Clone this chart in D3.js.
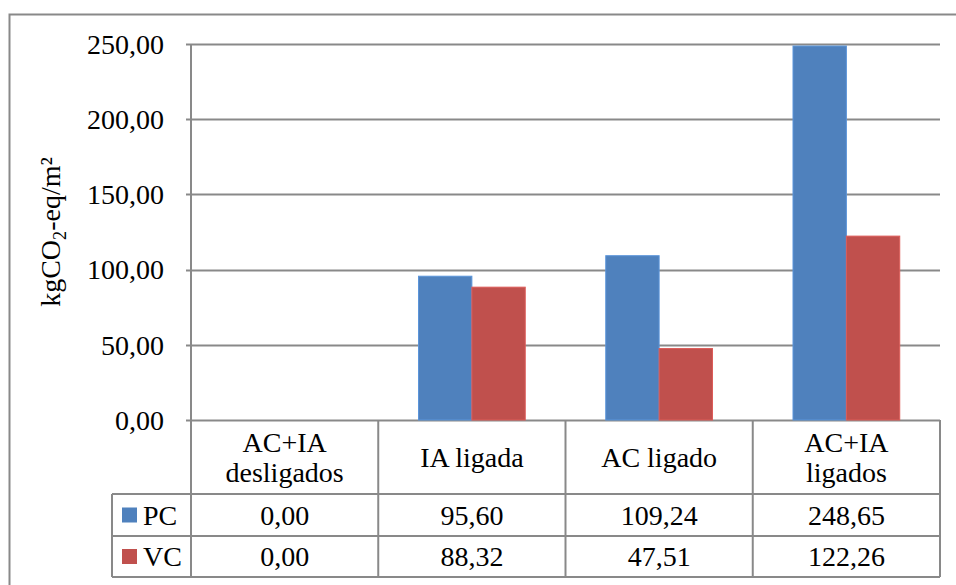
<!DOCTYPE html>
<html>
<head>
<meta charset="utf-8">
<script src="https://cdn.jsdelivr.net/npm/d3@7"></script>
</head>
<body style="margin:0; background:#fff">
<script>
// data
const categories = [["AC+IA", "desligados"], ["IA ligada"], ["AC ligado"], ["AC+IA", "ligados"]];
const seriesNames = ["PC", "VC"];
const pcValues = [0.00, 95.60, 109.24, 248.65];
const vcValues = [0.00, 88.32, 47.51, 122.26];
const yTicks = [0, 50, 100, 150, 200, 250];
const colors = ["#4F81BD", "#C0504D"];

const W = 956, H = 585;
const plotLeft = 191, plotRight = 940, plotTop = 44, zeroY = 420;
const rowHead = 494, rowPC = 536, rowVC = 577, legLeft = 112;
const fs = 28;
const grid = "#898989";

const pt = d3.formatLocale({decimal: ",", thousands: ".", grouping: [3], currency: ["", ""]});
const fmt = pt.format(".2f");

const svg = d3.select("body").append("svg")
    .attr("width", W)
    .attr("height", H);

// outer chart frame (runs off the picture on the right and bottom)
svg.append("rect")
    .attr("x", 9.5).attr("y", 14.5)
    .attr("width", 960).attr("height", 600)
    .attr("fill", "none").attr("stroke", grid).attr("stroke-width", 2);

const x = d3.scaleBand().domain(d3.range(categories.length)).range([plotLeft, plotRight]);
const y = d3.scaleLinear().domain([0, 250]).range([zeroY, plotTop]);
const gap = x.bandwidth() * 0.43 / 2;
const x1 = d3.scaleBand().domain(seriesNames).range([gap, x.bandwidth() - gap]);

// gridlines
svg.append("g")
    .selectAll("line")
    .data(yTicks)
    .join("line")
    .attr("x1", plotLeft - 5).attr("x2", plotRight)
    .attr("y1", d => Math.round(y(d)) + 0.5).attr("y2", d => Math.round(y(d)) + 0.5)
    .attr("stroke", grid).attr("stroke-width", 2);

// y axis line
svg.append("line")
    .attr("x1", plotLeft).attr("x2", plotLeft)
    .attr("y1", plotTop).attr("y2", rowHead)
    .attr("stroke", grid).attr("stroke-width", 2);

// tick labels
svg.append("g")
    .selectAll("text")
    .data(yTicks)
    .join("text")
    .attr("x", 164)
    .attr("y", d => y(d))
    .attr("dy", "0.35em")
    .attr("text-anchor", "end")
    .attr("font-size", fs)
    .text(d => fmt(d));

// y axis title
const yt = svg.append("text")
    .attr("transform", `translate(60,${(plotTop + zeroY) / 2}) rotate(-90)`)
    .attr("text-anchor", "middle")
    .attr("font-size", fs);
yt.append("tspan").text("kgCO");
yt.append("tspan").attr("font-size", fs * 0.65).attr("dy", 6).text("2");
yt.append("tspan").attr("dy", -6).text("-eq/m²");

// bars
const series = [pcValues, vcValues];
const gBars = svg.append("g");
series.forEach((vals, si) => {
    gBars.selectAll(null)
        .data(vals)
        .join("rect")
        .attr("x", (d, i) => x(i) + x1(seriesNames[si]))
        .attr("y", d => y(d))
        .attr("width", x1.bandwidth())
        .attr("height", d => zeroY - y(d))
        .attr("fill", colors[si])
        .attr("stroke", d3.color(colors[si]).brighter(0.4))
        .attr("stroke-width", d => d > 0 ? 1 : 0);
});

// data table
const tbl = svg.append("g").attr("stroke", grid).attr("stroke-width", 2);
// vertical column lines
tbl.selectAll(null)
    .data(d3.range(categories.length + 1))
    .join("line")
    .attr("x1", i => i < categories.length ? x(i) : plotRight)
    .attr("x2", i => i < categories.length ? x(i) : plotRight)
    .attr("y1", zeroY).attr("y2", rowVC);
// legend column left edge
tbl.append("line").attr("x1", legLeft).attr("x2", legLeft).attr("y1", rowHead).attr("y2", rowVC);
// horizontal row lines
[rowHead, rowPC, rowVC].forEach(yy => {
    tbl.append("line").attr("x1", legLeft).attr("x2", plotRight).attr("y1", yy).attr("y2", yy);
});

// category header labels
const lineH = 30;
svg.append("g")
    .selectAll("text")
    .data(categories)
    .join("text")
    .attr("text-anchor", "middle")
    .attr("font-size", fs)
    .each(function(lines, i) {
        const cy = (zeroY + rowHead) / 2 - (lines.length - 1) * lineH / 2;
        d3.select(this).selectAll("tspan")
            .data(lines)
            .join("tspan")
            .attr("x", x(i) + x.bandwidth() / 2)
            .attr("y", (l, j) => cy + j * lineH)
            .attr("dy", "0.35em")
            .text(l => l);
    });

// value rows with legend keys
const rowTops = [rowHead, rowPC];
const rowBots = [rowPC, rowVC];
series.forEach((vals, si) => {
    const cy = (rowTops[si] + rowBots[si]) / 2;
    svg.append("rect")
        .attr("x", 122).attr("y", cy - 7.5)
        .attr("width", 15).attr("height", 15)
        .attr("fill", colors[si]);
    svg.append("text")
        .attr("x", 143).attr("y", cy).attr("dy", "0.35em")
        .attr("font-size", fs)
        .text(seriesNames[si]);
    svg.append("g")
        .selectAll("text")
        .data(vals)
        .join("text")
        .attr("x", (d, i) => x(i) + x.bandwidth() / 2)
        .attr("y", cy).attr("dy", "0.35em")
        .attr("text-anchor", "middle")
        .attr("font-size", fs)
        .text(d => fmt(d));
});

// Times-like face on every label
svg.selectAll("text")
    .attr("font-family", "Tinos, 'Liberation Serif', 'Times New Roman', serif")
    .attr("fill", "#000");
</script>
</body>
</html>
